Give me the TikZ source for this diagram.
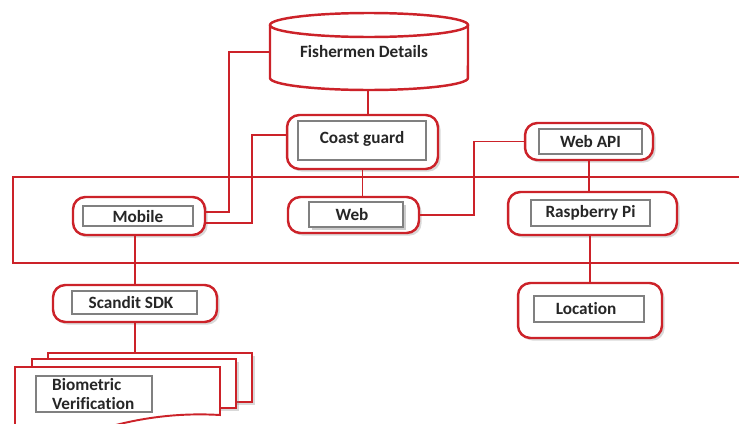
\documentclass[tikz,border=0pt]{standalone}
\usepackage{fontspec}
\setmainfont{Carlito}[Ligatures = NoCommon]
\usepackage{tikz}
\usetikzlibrary{shadows}
\definecolor{frame}{RGB}{204,34,41}
\definecolor{boxgray}{RGB}{128,128,128}
\tikzset{
  outer/.style = {draw = frame, line width = 1.4pt, rounded corners = 7pt, fill = white, inner sep = 0pt,
    drop shadow = {opacity = .3, shadow xshift = 1.5pt, shadow yshift = -1.5pt}},
  inner/.style = {draw = boxgray, line width = .7pt, fill = white, inner sep = 0pt},
  lbl/.style = {font = \bfseries\fontsize{9.8}{9.8}\selectfont, text = black!85},
  link/.style = {draw = frame, line width = 1.1pt}
}

\begin{document}
\begin{tikzpicture}[x = 0.02cm, y = -0.02cm]
\useasboundingbox (0,0) rectangle (739,423);
\draw[link] (13,177) rectangle (760,263);

\draw[link, line width = 1.4pt, fill = white] (270,25) -- (270,78) arc[start angle = 180, end angle = 360, x radius = 1.98cm, y radius = 0.24cm] -- (468,25);
\draw[link, line width = 1.4pt] (369,25) ellipse [x radius = 1.98cm, y radius = 0.24cm];
\node[lbl] (db) at (364,52) {Fishermen Details};
\coordinate (dbleft) at (270,52);
\coordinate (dbbot) at (368,90);

\node[outer, minimum width = 3.02cm, minimum height = 1.08cm] (coast) at (362.5,142) {};
\node[inner, minimum width = 2.56cm, minimum height = 0.78cm] (coastbox) at (362,140.5) {};
\node[lbl, anchor = north] at ([yshift = -3pt]coastbox.north) {Coast guard};

\node[outer, minimum width = 2.64cm, minimum height = 0.76cm] (mobile) at (139,216) {};
\node[inner, minimum width = 2.2cm, minimum height = 0.4cm] at (138,216) {};
\node[lbl] at (138,217) {Mobile};

\node[outer, minimum width = 2.62cm, minimum height = 0.72cm] (web) at (353.5,215) {};
\node[inner, minimum width = 1.88cm, minimum height = 0.5cm, drop shadow = {opacity = .4, shadow xshift = 1.5pt, shadow yshift = -1.5pt}] at (356,214.5) {};
\node[lbl] at (352,214.5) {Web};

\node[outer, minimum width = 2.56cm, minimum height = 0.74cm] (webapi) at (589,141.5) {};
\node[inner, minimum width = 2.06cm, minimum height = 0.5cm] at (590.5,141.5) {};
\node[lbl] at (590.5,141.5) {Web API};

\node[outer, minimum width = 3.38cm, minimum height = 0.86cm] (rpi) at (592.5,213.5) {};
\node[inner, minimum width = 2.38cm, minimum height = 0.52cm] at (590.5,213) {};
\node[lbl] at (590.5,213) {Raspberry Pi};

\node[outer, minimum width = 2.88cm, minimum height = 1.1cm] (location) at (590,310.5) {};
\node[inner, minimum width = 2.2cm, minimum height = 0.52cm] at (589,309) {};
\node[lbl] at (586,309) {Location};

\node[outer, minimum width = 3.28cm, minimum height = 0.74cm] (scandit) at (135,303.5) {};
\node[inner, minimum width = 2.5cm, minimum height = 0.46cm] at (134.5,302.5) {};
\node[lbl] at (131,302.5) {Scandit SDK};

\draw[link, fill = white, drop shadow = {opacity = .3, shadow xshift = 1.5pt, shadow yshift = -1.5pt}] (48,353) rectangle (252,402);
\draw[link, fill = white, drop shadow = {opacity = .3, shadow xshift = 1.5pt, shadow yshift = -1.5pt}] (32,359) rectangle (236,408);
\draw[link, fill = white] (15,367) -- (220,367) -- (220,415) .. controls (170,412) and (120,420) .. (70,440) -- (15,440) -- cycle;
\coordinate (docs) at (135,353);
\node[inner, minimum width = 2.32cm, minimum height = 0.72cm] (biobox) at (94,394) {};
\node[lbl, anchor = west, align = left] at ([xshift = 6pt]biobox.west) {Biometric\\[1pt]Verification};

\draw[link] (dbbot) -- (dbbot |- coast.north);
\draw[link] (mobile.east |- 0,212) -- (229,212) |- (dbleft);
\draw[link] (mobile.east |- 0,223) -| (252,135) -- (coast.west |- 0,135);
\draw[link] (coast.south) -- (coast.south |- web.north);
\draw[link] (web.east) -- (474,215) |- (webapi.west);
\draw[link] (webapi.south) -- (webapi.south |- rpi.north);
\draw[link] (location.north |- rpi.south) -- (location.north);
\draw[link] (mobile.south -| scandit.north) -- (scandit.north);
\draw[link] (scandit.south) -- (docs);
\end{tikzpicture}
\end{document}
